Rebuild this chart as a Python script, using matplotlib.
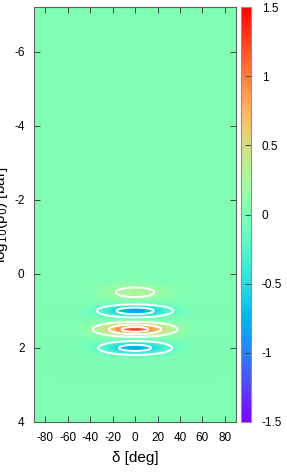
import matplotlib
matplotlib.use('Agg')
import matplotlib.pyplot as plt
import numpy as np
from matplotlib.ticker import FormatStrFormatter

plt.rcParams['font.family'] = ['Liberation Sans', 'DejaVu Sans']
plt.rcParams['axes.unicode_minus'] = False

# lobes (centre in log10 p0, peak value, widths)
row_y = [0.5, 1.0, 1.5, 2.0]
row_amp = [0.29, -0.85, 1.2, -0.78]
row_sx = [20.0, 20.0, 20.0, 20.0]      # deg
row_sy = [0.15, 0.107, 0.11, 0.115]    # log10 bar

contour_levels = [-0.6, -0.2, 0.2, 0.6, 1.0]
x_ticks = [-80, -60, -40, -20, 0, 20, 40, 60, 80]
y_ticks = [-6, -4, -2, 0, 2, 4]
cb_ticks = [-1.5, -1, -0.5, 0, 0.5, 1, 1.5]

# field on a fine grid
xx = np.linspace(-90, 90, 361)
yy = np.linspace(-7.2, 4, 900)
X, Y = np.meshgrid(xx, yy)
Z = np.zeros_like(X)
for y0, a, sx, sy in zip(row_y, row_amp, row_sx, row_sy):
    Z += a * np.exp(-X**2 / (2 * sx**2) - (Y - y0)**2 / (2 * sy**2))

fig = plt.figure(figsize=(2.87, 4.72), dpi=100)
ax = fig.add_axes([0.1195, 0.106, 0.7025, 0.879])
cax = fig.add_axes([0.8397, 0.106, 0.034, 0.879])

im = ax.imshow(Z, extent=[-90, 90, 4, -7.2], origin='upper', aspect='auto',
               cmap='rainbow', vmin=-1.5, vmax=1.5, interpolation='bilinear')
ax.contour(X, Y, Z, levels=contour_levels, colors='white', linewidths=1.4,
           linestyles='solid')

ax.set_xlim(-90, 90)
ax.set_ylim(4, -7.2)
ax.set_xticks(x_ticks)
ax.set_yticks(y_ticks)
ax.tick_params(direction='in', length=4, width=0.7, color='#404040',
               top=True, right=True, labelsize=8.5, pad=7)
for s in ax.spines.values():
    s.set_color('#606060')
    s.set_linewidth(0.8)

ax.set_xlabel('δ [deg]', fontsize=11, labelpad=5)
ax.set_ylabel(r'log$_{10}$(p$_0$) [bar]', fontsize=11)
ax.yaxis.set_label_coords(-0.12, 0.5)

cb = fig.colorbar(im, cax=cax, ticks=cb_ticks)
cb.ax.yaxis.set_major_formatter(FormatStrFormatter('%g'))
cb.ax.tick_params(direction='in', length=4, width=0.7, color='#404040',
                  labelsize=8.5, pad=8)
cb.outline.set_edgecolor('#909090')
cb.outline.set_linewidth(0.8)

fig.savefig('out.png', dpi=100)
